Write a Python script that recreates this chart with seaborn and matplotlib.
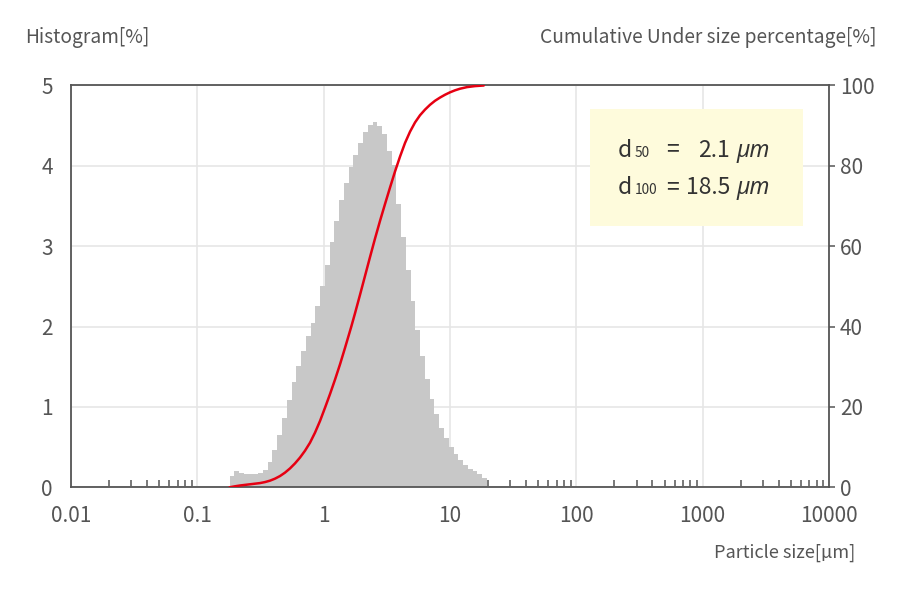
import numpy as np
import pandas as pd
import matplotlib
matplotlib.use("Agg")
import matplotlib.pyplot as plt
import seaborn as sns
from matplotlib.ticker import FixedLocator, FixedFormatter, LogLocator, NullFormatter
from matplotlib.patches import Rectangle

# ---------------- data ----------------
# channel edges of the particle size distribution [µm]
channel_edges = [0.1800, 0.1963, 0.2141, 0.2336, 0.2548, 0.2779, 0.3031, 0.3306, 0.3606, 0.3934,
                 0.4291, 0.4680, 0.5105, 0.5568, 0.6073, 0.6624, 0.7225, 0.7881, 0.8597, 0.9376,
                 1.0226, 1.1154, 1.2166, 1.3270, 1.4474, 1.5788, 1.7219, 1.8781, 2.0485, 2.2344,
                 2.4376, 2.6588, 2.9000, 3.1623, 3.4491, 3.7627, 4.1040, 4.4763, 4.8823, 5.3253,
                 5.8083, 6.3353, 6.9102, 7.5370, 8.2207, 8.9670, 9.7814, 10.669, 11.637, 12.692,
                 13.843, 15.101, 16.471, 17.965, 19.595]
# histogram [%] per channel
hist_freq = [0.14, 0.20, 0.18, 0.17, 0.16, 0.17, 0.18, 0.22, 0.32, 0.47, 0.65, 0.86, 1.09, 1.31,
             1.51, 1.70, 1.88, 2.05, 2.26, 2.51, 2.77, 3.05, 3.32, 3.57, 3.79, 3.99, 4.14, 4.29,
             4.42, 4.51, 4.54, 4.50, 4.40, 4.18, 4.01, 3.52,
             3.12, 2.71, 2.32, 1.96, 1.63, 1.35, 1.10, 0.91, 0.74, 0.61, 0.50, 0.41, 0.34, 0.28,
             0.23, 0.20, 0.16, 0.12]
# cumulative under size curve
cum_size = [0.180, 0.1987, 0.2177, 0.2384, 0.2611, 0.2860, 0.3133, 0.3432, 0.3759, 0.4118,
            0.4511, 0.4942, 0.5414, 0.5930, 0.6496, 0.7116, 0.7796, 0.8540, 0.9355, 1.0303,
            1.1225, 1.2297, 1.3470, 1.4756, 1.6547, 1.7703, 1.9393, 2.1244, 2.3272, 2.5493,
            2.7926, 3.0591, 3.3510, 3.6708, 4.0212, 4.4050, 4.8254, 5.2859, 5.7904, 6.3430,
            6.9484, 7.6115, 8.3380, 9.1338, 10.002, 10.957, 12.003, 13.638, 15.776, 18.5]
cum_pct = [0.0, 0.25, 0.45, 0.6, 0.75, 0.9, 1.05, 1.3, 1.65, 2.15,
           2.8, 3.65, 4.7, 5.95, 7.4, 9.1, 11.1, 13.6, 16.5, 20.0,
           23.2, 26.8, 30.6, 34.7, 40.0, 43.3, 47.9, 52.6, 57.3, 61.9,
           66.3, 70.5, 74.6, 78.6, 82.3, 85.7, 88.5, 90.8, 92.6, 94.0,
           95.2, 96.2, 97.0, 97.7, 98.3, 98.8, 99.2, 99.6, 99.85, 100.0]

x_ticks = [0.01, 0.1, 1, 10, 100, 1000, 10000]
x_tick_labels = ["0.01", "0.1", "1", "10", "100", "1000", "10000"]
y_ticks = [0, 1, 2, 3, 4, 5]
y2_ticks = [0, 20, 40, 60, 80, 100]

d50_text = "2.1"
d100_text = "18.5"

# ---------------- style ----------------
sns.set_style("white")
plt.rcParams["font.family"] = ["Noto Sans CJK JP", "DejaVu Sans"]

BAR = "#c8c8c8"
RED = "#e60012"
GRID = "#e6e6e6"
SPINE = "#555555"
TXT = "#555555"
BOX = "#fefbdc"

W, H = 900, 596
fig = plt.figure(figsize=(9, 5.96), dpi=100)
L, R, T, B = 71, 829, 85.5, 487.3
ax = fig.add_axes([L / W, 1 - B / H, (R - L) / W, (B - T) / H])

edges = np.asarray(channel_edges)
centers = np.sqrt(edges[:-1] * edges[1:])
df = pd.DataFrame({"size": centers, "freq": hist_freq})
log_bins = [float(v) for v in np.log10(edges)]
sns.histplot(data=df, x="size", weights="freq", bins=log_bins, log_scale=True,
             ax=ax, color=BAR, alpha=1, edgecolor="none", linewidth=0, stat="count",
             antialiased=False)

ax.set_xlim(0.01, 10000)
ax.set_ylim(0, 5)
ax.set_xlabel("")
ax.set_ylabel("")
ax.xaxis.set_major_locator(FixedLocator(x_ticks))
ax.xaxis.set_major_formatter(FixedFormatter(x_tick_labels))
ax.xaxis.set_minor_locator(LogLocator(base=10, subs=range(2, 10), numticks=20))
ax.xaxis.set_minor_formatter(NullFormatter())
ax.set_yticks(y_ticks)
ax.grid(True, which="major", color=GRID, lw=1.2)
ax.grid(False, which="minor")
ax.set_axisbelow(True)

ax.tick_params(axis="x", which="major", bottom=True, length=0, pad=13,
               labelsize=15, labelcolor=TXT)
ax.tick_params(axis="x", which="minor", bottom=True, direction="in", length=5,
               width=1.1, color=SPINE)
ax.tick_params(axis="y", left=True, length=0, pad=13, labelsize=15, labelcolor=TXT)
for s in ax.spines.values():
    s.set_visible(True)
    s.set_color(SPINE)
    s.set_linewidth(1.3)

ax2 = ax.twinx()
sns.lineplot(x=cum_size, y=cum_pct, ax=ax2, color=RED, lw=1.8)
ax2.set_ylim(0, 100)
ax2.set_yticks(y2_ticks)
ax2.set_ylabel("")
ax2.tick_params(axis="y", right=True, direction="out", length=4, width=1.1, color=SPINE,
                pad=4, labelsize=15, labelcolor=TXT)
for s in ax2.spines.values():
    s.set_visible(False)

# axis titles
fig.text(25 / W, 1 - 38 / H, "Histogram[%]", ha="left", va="center", fontsize=13.8, color=TXT)
fig.text(877 / W, 1 - 38 / H, "Cumulative Under size percentage[%]", ha="right", va="center",
         fontsize=13.8, color=TXT)
fig.text(855 / W, 1 - 553 / H, "Particle size[µm]", ha="right", va="center",
         fontsize=13, color=TXT)

# annotation box
ax2.add_patch(Rectangle((590 / W, 1 - 226 / H), (803 - 590) / W, (226 - 109) / H,
                        transform=fig.transFigure, facecolor=BOX, edgecolor="none", zorder=5))
ATX = "#333333"
ITAL = dict(family=["Noto Sans", "DejaVu Sans"], style="italic")
for base_y, sub, val in [(156.7, "50", d50_text), (194, "100", d100_text)]:
    yy = 1 - base_y / H
    fig.text(618 / W, yy, "d", ha="left", va="baseline", fontsize=16.5, color=ATX, zorder=6)
    fig.text(634.5 / W, yy, sub, ha="left", va="baseline", fontsize=9.8, color=ATX, zorder=6)
    fig.text(672.5 / W, yy, "=", ha="center", va="baseline", fontsize=16.5, color=ATX, zorder=6)
    fig.text(730 / W, yy, val, ha="right", va="baseline", fontsize=16.5, color=ATX, zorder=6)
    fig.text(737 / W, yy, "µm", ha="left", va="baseline", fontsize=16.5, color=ATX, zorder=6,
             **ITAL)

fig.savefig("out.png", dpi=100)
